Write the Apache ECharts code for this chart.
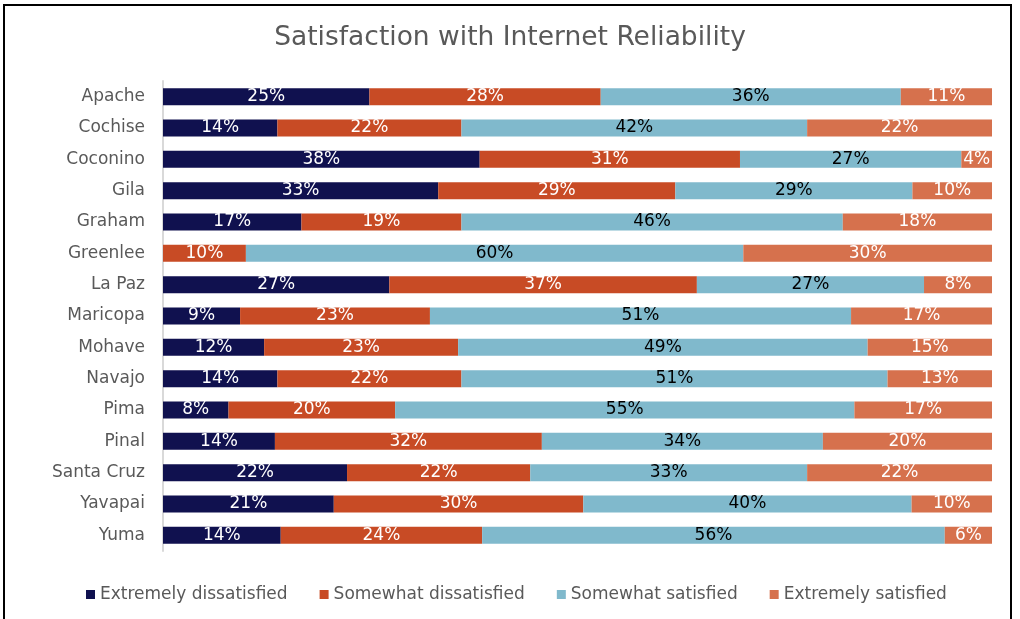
<!DOCTYPE html>
<html>
<head>
<meta charset="utf-8">
<script src="https://cdn.jsdelivr.net/npm/echarts@6/dist/echarts.min.js"></script>
<style>
html,body{margin:0;padding:0;background:#fff;}
#chart{width:1020px;height:619px;}
</style>
</head>
<body>
<div id="chart"></div>
<script>
var counties = ['Apache','Cochise','Coconino','Gila','Graham','Greenlee','La Paz','Maricopa','Mohave','Navajo','Pima','Pinal','Santa Cruz','Yavapai','Yuma'];
var extremelyDissatisfied = [24.9,13.8,38.2,33.2,16.7,0,27.3,9.3,12.2,13.8,7.9,13.5,22.2,20.6,14.2];
var somewhatDissatisfied  = [27.9,22.2,31.4,28.6,19.3,10.0,37.1,22.9,23.4,22.2,20.1,32.2,22.1,30.1,24.3];
var somewhatSatisfied     = [36.2,41.7,26.7,28.6,46.0,60.0,27.4,50.8,49.4,51.4,55.4,33.9,33.4,39.6,55.8];
var extremelySatisfied    = [11.0,22.3,3.7,9.6,18.0,30.0,8.2,17.0,15.0,12.6,16.6,20.4,22.3,9.7,5.7];
var seriesNames = ['Extremely dissatisfied','Somewhat dissatisfied','Somewhat satisfied','Extremely satisfied'];
var colors = ['#10114f','#c84b25','#80b9cc','#d6714d'];
var labelColors = ['#ffffff','#ffffff','#000000','#ffffff'];
var seriesData = [extremelyDissatisfied, somewhatDissatisfied, somewhatSatisfied, extremelySatisfied];

var FONT = 'DejaVu Sans';
var chart = echarts.init(document.getElementById('chart'), null, {renderer:'canvas'});
var series = seriesData.map(function(d, i){
  return {
    name: seriesNames[i],
    type: 'bar',
    stack: 'total',
    barWidth: 17,
    data: d,
    itemStyle: {color: colors[i]},
    label: {
      show: true,
      position: 'inside',
      color: labelColors[i],
      fontFamily: FONT,
      fontSize: 17,
      formatter: function(p){ return p.value > 0 ? Math.round(p.value) + '%' : ''; }
    },
    emphasis: {disabled: true}
  };
});
chart.setOption({
  animation: false,
  textStyle: {fontFamily: FONT},
  title: {
    text: 'Satisfaction with Internet Reliability',
    left: 'center',
    top: 20,
    textStyle: {fontFamily: FONT, fontSize: 26.5, fontWeight: 'normal', color: '#595959'}
  },
  legend: {
    data: seriesNames,
    left: 86,
    top: 586,
    padding: 0,
    icon: 'rect',
    itemWidth: 9,
    itemHeight: 9,
    itemGap: 32,
    textStyle: {fontFamily: FONT, fontSize: 17, color: '#595959'}
  },
  grid: {left: 163, right: 28, top: 81, bottom: 68, containLabel: false},
  xAxis: {type: 'value', min: 0, max: 100, show: false},
  yAxis: {
    type: 'category',
    data: counties,
    inverse: true,
    offset: 2,
    axisLine: {show: true, lineStyle: {color: '#d9d9d9', width: 2}},
    axisTick: {show: false},
    axisLabel: {margin: 16, fontFamily: FONT, fontSize: 17, color: '#595959'},
    splitLine: {show: false}
  },
  graphic: [{
    type: 'rect',
    silent: true,
    z: 100,
    shape: {x: 4, y: 5, width: 1007, height: 700},
    style: {fill: 'none', stroke: '#000', lineWidth: 2}
  }],
  series: series
});
</script>
</body>
</html>
